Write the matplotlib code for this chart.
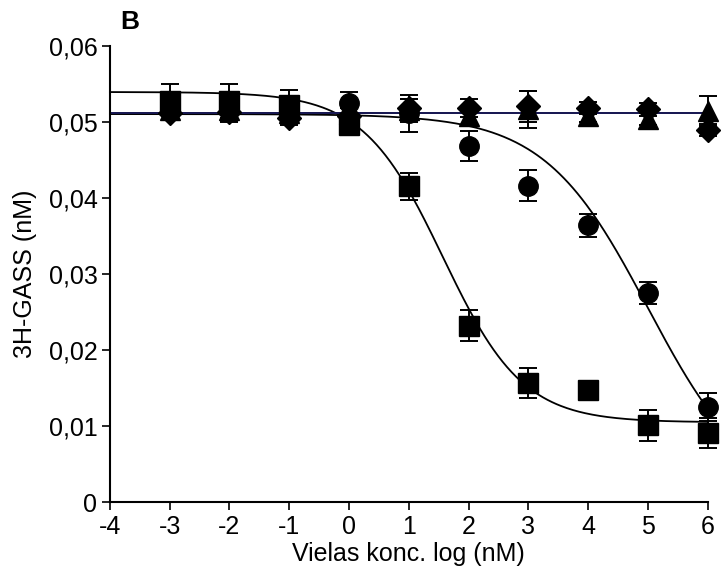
"""
Panel B: 3H-GASS binding displacement vs. log concentration.
Competition curves for four compounds, mean +/- SEM.
"""

import matplotlib
matplotlib.use("Agg")
import matplotlib.pyplot as plt
import matplotlib.ticker as mticker
import numpy as np

# -- Measured points (log nM -> bound 3H-GASS, nM) ---------------------------
LOG_CONC = [-3, -2, -1, 0, 1, 2, 3, 4, 5, 6]

SQUARE_Y = [0.0527, 0.0527, 0.0522, 0.0496, 0.0415, 0.0232, 0.0157, 0.0147, 0.0101, 0.0091]
SQUARE_ERR = [0.0023, 0.0022, 0.0020, 0.0014, 0.0018, 0.0020, 0.0020, 0.0008, 0.0020, 0.0020]

CIRCLE_Y = [0.0522, 0.0520, 0.0515, 0.0524, 0.0511, 0.0468, 0.0416, 0.0364, 0.0275, 0.0125]
CIRCLE_ERR = [0.0015, 0.0015, 0.0015, 0.0015, 0.0024, 0.0020, 0.0020, 0.0015, 0.0015, 0.0018]

TRIANGLE_Y = [0.0515, 0.0515, 0.0512, 0.0510, 0.0515, 0.0507, 0.0516, 0.0507, 0.0503, 0.0514]
TRIANGLE_ERR = [0.0012, 0.0015, 0.0012, 0.0012, 0.0015, 0.0012, 0.0024, 0.0008, 0.0008, 0.0020]

DIAMOND_Y = [0.0512, 0.0513, 0.0505, 0.0508, 0.0518, 0.0518, 0.0520, 0.0518, 0.0516, 0.0489]
DIAMOND_ERR = [0.0010, 0.0012, 0.0010, 0.0010, 0.0012, 0.0012, 0.0020, 0.0008, 0.0008, 0.0008]

# -- Fitted one-site competition parameters -----------------------------------
# (top, bottom, logIC50, hill slope)
SQUARE_FIT = (0.0539, 0.0105, 1.57, 0.65)
CIRCLE_FIT = (0.0510, 0.0000, 5.00, 0.50)
FLAT_FIT_LEVEL = 0.0511

X_TICKS = [-4, -3, -2, -1, 0, 1, 2, 3, 4, 5, 6]
Y_TICKS = [0, 0.01, 0.02, 0.03, 0.04, 0.05, 0.06]

NAVY = "#1a1a5a"


def competition(x, top, bottom, log_ic50, hill):
    return bottom + (top - bottom) / (1 + 10 ** (hill * (x - log_ic50)))


def comma_fmt(v, _pos):
    if abs(v) < 1e-12:
        return "0"
    return f"{v:.2f}".replace(".", ",")


plt.rcParams.update({
    "font.family": ["Liberation Sans", "DejaVu Sans"],
    "font.size": 18,
    "axes.unicode_minus": False,
})

fig = plt.figure(figsize=(7.23, 5.84), dpi=100)
ax = fig.add_axes([0.152, 0.140, 0.827, 0.782])

xs = np.linspace(-4, 6, 400)

# fitted curves
ax.plot(xs, competition(xs, *SQUARE_FIT), color="black", lw=1.3, zorder=2)
ax.plot(xs, competition(xs, *CIRCLE_FIT), color="black", lw=1.3, zorder=2)
ax.plot(xs, np.full_like(xs, FLAT_FIT_LEVEL), color="black", lw=1.3, zorder=2)
ax.plot(xs, np.full_like(xs, FLAT_FIT_LEVEL), color=NAVY, lw=1.3, zorder=2.1)

err_kw = dict(ecolor="black", elinewidth=1.4, capsize=6.5, capthick=1.4,
              color="black", linestyle="none")

ax.errorbar(LOG_CONC, DIAMOND_Y, yerr=DIAMOND_ERR, marker="D", markersize=12,
            zorder=3, **err_kw)
ax.errorbar(LOG_CONC, TRIANGLE_Y, yerr=TRIANGLE_ERR, marker="^", markersize=15,
            zorder=4, **err_kw)
ax.errorbar(LOG_CONC, CIRCLE_Y, yerr=CIRCLE_ERR, marker="o", markersize=14,
            zorder=5, **err_kw)
ax.errorbar(LOG_CONC, SQUARE_Y, yerr=SQUARE_ERR, marker="s", markersize=14,
            zorder=6, **err_kw)

# points at x = 6 sit on the axis edge, keep them whole
for artist in ax.get_children():
    try:
        artist.set_clip_on(False)
    except AttributeError:
        pass

ax.set_xlim(-4, 6)
ax.set_ylim(0, 0.06)
ax.set_xticks(X_TICKS)
ax.set_yticks(Y_TICKS)
ax.yaxis.set_major_formatter(mticker.FuncFormatter(comma_fmt))

for side in ("top", "right"):
    ax.spines[side].set_visible(False)
for side in ("left", "bottom"):
    ax.spines[side].set_linewidth(1.5)
ax.tick_params(direction="out", length=6, width=1.2, labelsize=18, pad=3)

ax.set_xlabel("Vielas konc. log (nM)", fontsize=18, labelpad=2)
ax.set_ylabel("3H-GASS (nM)", fontsize=18, labelpad=8)

fig.text(0.166, 0.962, "B", fontsize=19, fontweight="bold", ha="left", va="center")

fig.savefig("out.png", dpi=100, facecolor="white")
